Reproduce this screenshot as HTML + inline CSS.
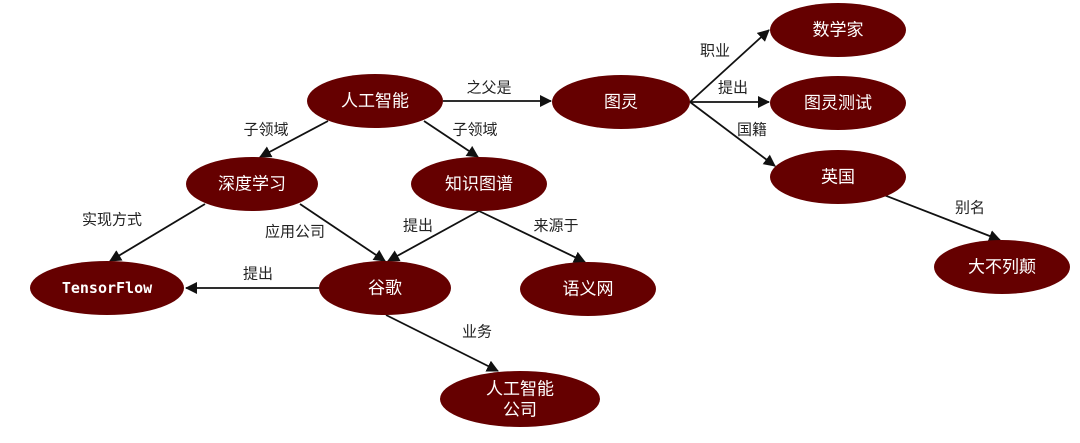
<!DOCTYPE html>
<html><head><meta charset="utf-8"><style>
body{margin:0;background:#fff;}
svg text{font-family:"Liberation Sans","Noto Sans CJK SC",sans-serif;}
.n{fill:#650000;}
.t{fill:#fff;font-size:17px;text-anchor:middle;dominant-baseline:central;}
.l{fill:#222;font-size:15px;text-anchor:middle;dominant-baseline:central;}
line{stroke:#111;stroke-width:1.8;}
</style></head><body>
<svg width="1080" height="438" viewBox="0 0 1080 438">
<defs><marker id="a" markerWidth="12" markerHeight="12" refX="11" refY="6" orient="auto" markerUnits="userSpaceOnUse"><path d="M0,0 L12,6 L0,12 Z" fill="#111"/></marker></defs>
<line x1="443" y1="101" x2="551" y2="101" marker-end="url(#a)"/>
<line x1="328" y1="121" x2="260" y2="157" marker-end="url(#a)"/>
<line x1="424" y1="121" x2="478" y2="157" marker-end="url(#a)"/>
<line x1="690" y1="102" x2="769" y2="30" marker-end="url(#a)"/>
<line x1="690" y1="102" x2="769" y2="102" marker-end="url(#a)"/>
<line x1="690" y1="102" x2="775" y2="166" marker-end="url(#a)"/>
<line x1="884" y1="195" x2="1000" y2="240" marker-end="url(#a)"/>
<line x1="205" y1="204" x2="110" y2="261" marker-end="url(#a)"/>
<line x1="300" y1="204" x2="385" y2="261" marker-end="url(#a)"/>
<line x1="479" y1="211" x2="388" y2="261" marker-end="url(#a)"/>
<line x1="479" y1="211" x2="585" y2="262" marker-end="url(#a)"/>
<line x1="319" y1="288" x2="186" y2="288" marker-end="url(#a)"/>
<line x1="386" y1="315" x2="498" y2="371" marker-end="url(#a)"/>
<ellipse class="n" cx="375" cy="101" rx="68" ry="27"/><text class="t" x="375" y="101">人工智能</text>
<ellipse class="n" cx="621" cy="102" rx="69" ry="27"/><text class="t" x="621" y="102">图灵</text>
<ellipse class="n" cx="838" cy="30" rx="68" ry="27"/><text class="t" x="838" y="30">数学家</text>
<ellipse class="n" cx="838" cy="103" rx="68" ry="27"/><text class="t" x="838" y="103">图灵测试</text>
<ellipse class="n" cx="838" cy="177" rx="68" ry="27"/><text class="t" x="838" y="177">英国</text>
<ellipse class="n" cx="1002" cy="267" rx="68" ry="27"/><text class="t" x="1002" y="267">大不列颠</text>
<ellipse class="n" cx="252" cy="184" rx="66" ry="27"/><text class="t" x="252" y="184">深度学习</text>
<ellipse class="n" cx="479" cy="184" rx="68" ry="27"/><text class="t" x="479" y="184">知识图谱</text>
<ellipse class="n" cx="107" cy="288" rx="77" ry="27"/><text class="t" x="107" y="288" style="font-family:'DejaVu Sans Mono',monospace;font-size:15px;font-weight:bold">TensorFlow</text>
<ellipse class="n" cx="385" cy="288" rx="66" ry="27"/><text class="t" x="385" y="288">谷歌</text>
<ellipse class="n" cx="588" cy="289" rx="68" ry="27"/><text class="t" x="588" y="289">语义网</text>
<ellipse class="n" cx="520" cy="399" rx="80" ry="28"/><text class="t" x="520" y="389">人工智能</text><text class="t" x="520" y="410">公司</text>
<text class="l" x="489" y="88">之父是</text>
<text class="l" x="266" y="130">子领域</text>
<text class="l" x="475" y="130">子领域</text>
<text class="l" x="715" y="51">职业</text>
<text class="l" x="733" y="88">提出</text>
<text class="l" x="752" y="130">国籍</text>
<text class="l" x="970" y="208">别名</text>
<text class="l" x="112" y="220">实现方式</text>
<text class="l" x="295" y="232">应用公司</text>
<text class="l" x="418" y="226">提出</text>
<text class="l" x="556" y="226">来源于</text>
<text class="l" x="258" y="274">提出</text>
<text class="l" x="477" y="332">业务</text>
</svg>
</body></html>
